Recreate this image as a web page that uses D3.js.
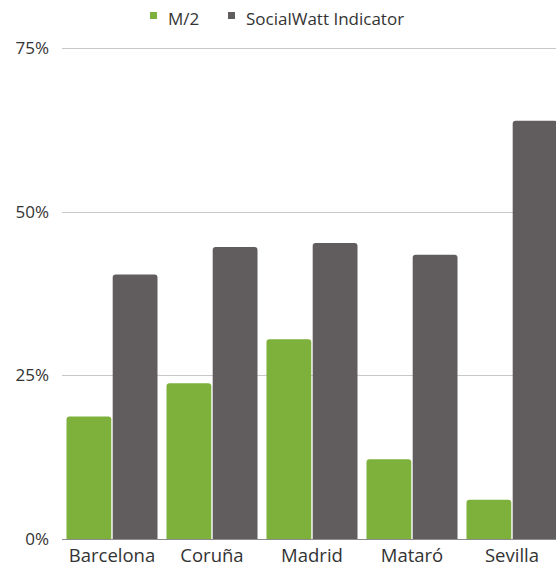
<!DOCTYPE html>
<html>
<head>
<meta charset="utf-8">
<script src="https://cdn.jsdelivr.net/npm/d3@7"></script>
<style>
  body { margin: 0; background: #fff; }
  text { font-family: "Open Sans", sans-serif; fill: #333; }
</style>
</head>
<body>
<div class="chart"></div>
<script>
// data
var cities = ["Barcelona", "Coruña", "Madrid", "Mataró", "Sevilla"];
var seriesNames = ["M/2", "SocialWatt Indicator"];
var m2Values = [0.187, 0.238, 0.305, 0.122, 0.060];
var swValues = [0.404, 0.446, 0.452, 0.434, 0.639];
var yTicks = [0, 0.25, 0.5, 0.75];
var colors = ["#7db13b", "#615c5d"];

var svgWidth = 556;
var svgHeight = 568;

var svg = d3.select(".chart")
  .append("svg")
  .attr("width", svgWidth)
  .attr("height", svgHeight);

var y = d3.scaleLinear().domain([0, 0.75]).range([539, 48]);

var x0 = d3.scaleBand().domain(cities).range([62, 562]).padding(0);
var x1 = d3.scaleBand().domain(seriesNames).range([4.5, 95.5]).paddingInner(0.03);

// gridlines
svg.append("g")
  .selectAll("line")
  .data(yTicks.filter(function(d) { return d > 0; }))
  .enter()
  .append("line")
  .attr("x1", 62)
  .attr("x2", svgWidth)
  .attr("y1", function(d) { return Math.round(y(d)) + 0.5; })
  .attr("y2", function(d) { return Math.round(y(d)) + 0.5; })
  .attr("stroke", "#c8c8c8")
  .attr("stroke-width", 1);

// y labels
svg.append("g")
  .selectAll("text")
  .data(yTicks)
  .enter()
  .append("text")
  .attr("x", 49)
  .attr("y", function(d) { return y(d) + 6; })
  .attr("text-anchor", "end")
  .style("font-size", "17px")
  .text(d3.format(".0%"));

// rounded-top bar path
function barPath(x, yTop, w, yBase, r) {
  r = Math.min(r, (yBase - yTop));
  return "M" + x + "," + yBase +
    "V" + (yTop + r) +
    "Q" + x + "," + yTop + " " + (x + r) + "," + yTop +
    "H" + (x + w - r) +
    "Q" + (x + w) + "," + yTop + " " + (x + w) + "," + (yTop + r) +
    "V" + yBase + "Z";
}

var rows = cities.map(function(c, i) {
  return { city: c, values: [m2Values[i], swValues[i]] };
});

var groups = svg.append("g")
  .selectAll("g")
  .data(rows)
  .enter()
  .append("g")
  .attr("transform", function(d) { return "translate(" + x0(d.city) + ",0)"; });

groups.selectAll("path")
  .data(function(d) {
    return d.values.map(function(v, j) { return { key: seriesNames[j], value: v, idx: j }; });
  })
  .enter()
  .append("path")
  .attr("d", function(d) {
    return barPath(x1(d.key), y(d.value), x1.bandwidth(), y(0), 3);
  })
  .attr("fill", function(d) { return colors[d.idx]; });

// baseline
svg.append("line")
  .attr("x1", 62)
  .attr("x2", svgWidth)
  .attr("y1", y(0) + 0.5)
  .attr("y2", y(0) + 0.5)
  .attr("stroke", "#8c8c8c")
  .attr("stroke-width", 1);

// x labels
svg.append("g")
  .selectAll("text")
  .data(cities)
  .enter()
  .append("text")
  .attr("x", function(d) { return x0(d) + x0.bandwidth() / 2; })
  .attr("y", 562)
  .attr("text-anchor", "middle")
  .style("font-size", "18.5px")
  .text(function(d) { return d; });

// legend
var legendX = [150, 228];
var legend = svg.append("g")
  .selectAll("g")
  .data(seriesNames)
  .enter()
  .append("g")
  .attr("transform", function(d, i) { return "translate(" + legendX[i] + ",0)"; });

legend.append("rect")
  .attr("x", 0)
  .attr("y", 12)
  .attr("width", 7)
  .attr("height", 7)
  .attr("fill", function(d, i) { return colors[i]; });

legend.append("text")
  .attr("x", 18)
  .attr("y", 25)
  .style("font-size", "17px")
  .text(function(d) { return d; });
</script>
</body>
</html>
